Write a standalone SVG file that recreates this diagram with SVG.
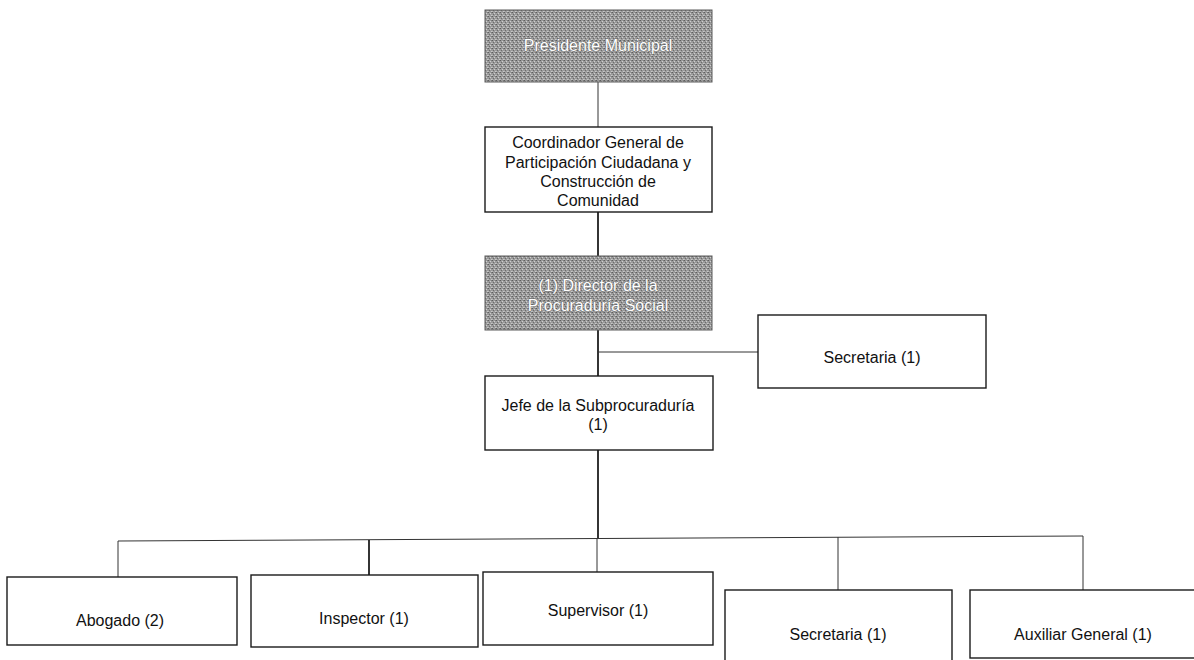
<svg xmlns="http://www.w3.org/2000/svg" width="1194" height="660" viewBox="0 0 1194 660">
  <defs>
    <!-- dithered grey fill used by the highlighted posts -->
    <pattern id="dither" width="4" height="4" patternUnits="userSpaceOnUse">
      <rect width="4" height="4" fill="#9a9a9a"/>
      <rect x="0" y="0" width="1" height="1" fill="#5e5e5e"/>
      <rect x="2" y="1" width="1" height="1" fill="#cfcfcf"/>
      <rect x="1" y="2" width="1" height="1" fill="#6c6c6c"/>
      <rect x="3" y="3" width="1" height="1" fill="#c8c8c8"/>
      <rect x="3" y="0" width="1" height="1" fill="#7c7c7c"/>
      <rect x="0" y="3" width="1" height="1" fill="#b8b8b8"/>
    </pattern>
    <style>
      .box { fill: #ffffff; stroke: #1a1a1a; stroke-width: 1.4; }
      .grey { fill: url(#dither); stroke: #5a5a5a; stroke-width: 1; }
      .lbl { font-family: "Liberation Sans", Arial, sans-serif; font-size: 16px; fill: #111111; text-anchor: middle; }
      .lbl-w { font-family: "Liberation Sans", Arial, sans-serif; font-size: 16px; fill: #ffffff; text-anchor: middle; stroke: #6a6a6a; stroke-width: 0.8; paint-order: stroke; }
      .link { stroke: #111111; stroke-width: 1.7; fill: none; }
      .thin { stroke: #333333; stroke-width: 1; fill: none; }
    </style>
  </defs>

  <rect width="1194" height="660" fill="#ffffff"/>

  <!-- connectors -->
  <g id="connectors">
    <line class="thin" x1="598" y1="82" x2="598" y2="127"/>
    <line class="link" x1="598" y1="212" x2="598" y2="256"/>
    <line class="link" x1="598" y1="330" x2="598" y2="376"/>
    <line class="thin" x1="598" y1="352" x2="758" y2="352"/>
    <line class="link" x1="598" y1="450" x2="598" y2="538"/>
    <!-- distribution bar for the operating staff -->
    <line class="thin" x1="118" y1="541" x2="1083" y2="536"/>
    <line class="thin" x1="118" y1="541" x2="118" y2="577"/>
    <line class="link" x1="369" y1="540" x2="369" y2="575"/>
    <line class="thin" x1="597" y1="538" x2="597" y2="572"/>
    <line class="thin" x1="838" y1="537" x2="838" y2="590"/>
    <line class="thin" x1="1083" y1="536" x2="1083" y2="590"/>
  </g>

  <g id="presidente">
    <rect class="grey" x="485" y="10" width="227" height="72"/>
    <text class="lbl-w" x="598" y="51">Presidente Municipal</text>
  </g>

  <g id="coordinador">
    <rect class="box" x="485" y="127" width="227" height="85"/>
    <text class="lbl" x="598" y="148">Coordinador General de</text>
    <text class="lbl" x="598" y="168">Participación Ciudadana y</text>
    <text class="lbl" x="598" y="187">Construcción de</text>
    <text class="lbl" x="598" y="206">Comunidad</text>
  </g>

  <g id="director">
    <rect class="grey" x="485" y="256" width="227" height="74"/>
    <text class="lbl-w" x="598" y="291">(1) Director de la</text>
    <text class="lbl-w" x="598" y="311">Procuraduría Social</text>
  </g>

  <g id="secretaria-direccion">
    <rect class="box" x="758" y="315" width="228" height="73"/>
    <text class="lbl" x="872" y="363">Secretaria (1)</text>
  </g>

  <g id="jefe">
    <rect class="box" x="485" y="376" width="228" height="74"/>
    <text class="lbl" x="598" y="411">Jefe de la Subprocuraduría</text>
    <text class="lbl" x="598" y="430">(1)</text>
  </g>

  <g id="abogado">
    <rect class="box" x="7" y="577" width="230" height="68"/>
    <text class="lbl" x="120" y="626">Abogado (2)</text>
  </g>

  <g id="inspector">
    <rect class="box" x="251" y="575" width="227" height="72"/>
    <text class="lbl" x="364" y="624">Inspector (1)</text>
  </g>

  <g id="supervisor">
    <rect class="box" x="483" y="572" width="230" height="73"/>
    <text class="lbl" x="598" y="616">Supervisor (1)</text>
  </g>

  <g id="secretaria">
    <rect class="box" x="725" y="590" width="227" height="80"/>
    <text class="lbl" x="838" y="640">Secretaria (1)</text>
  </g>

  <g id="auxiliar">
    <rect class="box" x="970" y="590" width="240" height="68"/>
    <text class="lbl" x="1083" y="640">Auxiliar General (1)</text>
  </g>
</svg>
